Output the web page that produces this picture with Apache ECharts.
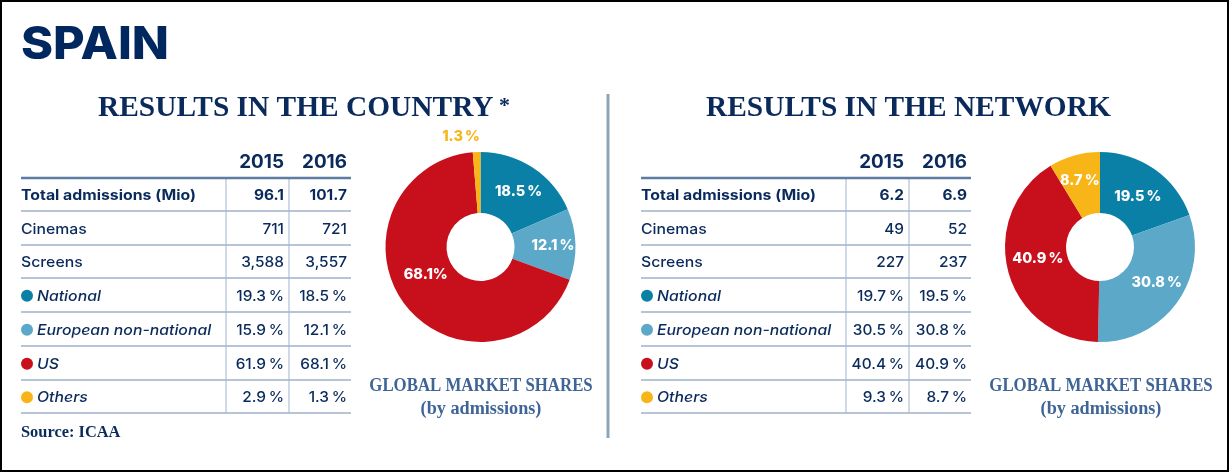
<!DOCTYPE html>
<html><head><meta charset="utf-8">
<style>html,body{margin:0;padding:0;background:#fff}#c{width:1229px;height:472px}</style>
<script src="https://cdn.jsdelivr.net/npm/echarts@6/dist/echarts.min.js"></script>
</head><body><div id="c"></div>
<script>
const pageTitle = 'SPAIN';
const years = ['2015', '2016'];
const segments = ['National', 'European non-national', 'US', 'Others'];
const rowLabels = ['Total admissions (Mio)', 'Cinemas', 'Screens', ...segments];
const countryTitle = 'RESULTS IN THE COUNTRY';
const networkTitle = 'RESULTS IN THE NETWORK';
const country2015 = ['96.1', '711', '3,588', '19.3\u2009%', '15.9\u2009%', '61.9\u2009%', '2.9\u2009%'];
const country2016 = ['101.7', '721', '3,557', '18.5\u2009%', '12.1\u2009%', '68.1\u2009%', '1.3\u2009%'];
const network2015 = ['6.2', '49', '227', '19.7\u2009%', '30.5\u2009%', '40.4\u2009%', '9.3\u2009%'];
const network2016 = ['6.9', '52', '237', '19.5\u2009%', '30.8\u2009%', '40.9\u2009%', '8.7\u2009%'];
const countryShares = [18.5, 12.1, 68.1, 1.3];
const networkShares = [19.5, 30.8, 40.9, 8.7];
const pieCaption = ['GLOBAL MARKET SHARES', '(by admissions)'];
const sourceNote = 'Source: ICAA';

const NAVY = '#0a2a5c', BLUE = '#3f6496', RULE = '#9fb0c8', VRULE = '#cfd9e8';
const COLORS = ['#0b80a6', '#5ba8c8', '#c8101c', '#f7b518'];
const SANS = 'Inter, "Noto Sans", sans-serif';
const SERIF = '"Liberation Serif", serif';
const rowY = [178, 211, 245, 278, 312, 346, 380, 413];

const g = [];
function text(x, y, s, o, sx) {
  g.push({ type: 'text', silent: true, z: 5, x, y, scaleX: sx || 1, style: Object.assign({
    text: s, fill: NAVY, verticalAlign: 'middle', font: '500 15px ' + SANS
  }, o) });
}
function line(x1, y1, x2, y2, stroke, w) {
  g.push({ type: 'line', silent: true, z: 3, shape: { x1, y1, x2, y2 }, style: { stroke, lineWidth: w } });
}
function table(dx, v15, v16) {
  text(dx + 284, 162.5, years[0], { align: 'right', font: '700 18.5px ' + SANS }, 1.02);
  text(dx + 347, 162.5, years[1], { align: 'right', font: '700 18.5px ' + SANS }, 1.02);
  line(dx + 226, 178, dx + 226, 413, VRULE, 2);
  line(dx + 289, 178, dx + 289, 413, VRULE, 2);
  rowY.forEach((y, i) => line(dx + 21, y, dx + 351, y, i === 0 ? '#5d7ba3' : RULE, i === 0 ? 2.5 : 1.6));
  rowLabels.forEach((lab, i) => {
    const cy = (rowY[i] + rowY[i + 1]) / 2 + 1.2;
    const bold = i === 0, seg = i >= 3;
    if (seg) {
      g.push({ type: 'circle', silent: true, z: 4, shape: { cx: dx + 27, cy: cy - 0.5, r: 6 }, style: { fill: COLORS[i - 3] } });
    }
    text(dx + (seg ? 37 : 21), cy, lab, { font: (seg ? 'italic 500 14.7px ' : bold ? '700 14.2px ' : '500 14.7px ') + SANS }, bold ? 1.115 : 1.075);
    const f = (bold ? '700 ' : '500 ') + '14.7px ' + SANS;
    text(dx + 284, cy, v15[i], { align: 'right', font: f }, 1.05);
    text(dx + 347, cy, v16[i], { align: 'right', font: f }, 1.05);
  });
}
function caption(cx) {
  text(cx, 386, pieCaption[0], { align: 'center', fill: BLUE, font: 'bold 18.2px ' + SERIF }, 0.925);
  text(cx, 409, pieCaption[1], { align: 'center', fill: BLUE, font: 'bold 18.2px ' + SERIF });
}
g.push({ type: 'rect', silent: true, z: 10, shape: { x: 1, y: 1, width: 1227, height: 470 }, style: { fill: 'none', stroke: '#000', lineWidth: 2 } });
text(21, 45, pageTitle, { font: '800 45px ' + SANS, fill: '#00285f' }, 1.08);
text(98, 108, countryTitle, { font: 'bold 29.4px ' + SERIF });
text(499, 106, '*', { font: 'bold 22px ' + SERIF });
text(706, 108, networkTitle, { font: 'bold 29.4px ' + SERIF });
line(608, 94, 608, 438, '#8ea5b8', 3);
table(0, country2015, country2016);
table(620, network2015, network2016);
caption(481); caption(1101);
text(21, 433, sourceNote, { font: 'bold 16.4px ' + SERIF });

const countryOffsets = [[1, 1], [5, 1], [-1, -13], [39, 0]];
const networkOffsets = [[-1, 5], [2, -4], [3, -6], [-2, -1]];
function pie(cx, values, offsets, outsideIdx) {
  return {
    type: 'pie', center: [cx, 247], radius: [34, 95], startAngle: 90, clockwise: true,
    silent: true, animation: false, avoidLabelOverlap: false, minShowLabelAngle: 0, labelLine: { show: false },
    data: values.map((v, i) => ({
      value: v, name: segments[i], itemStyle: { color: COLORS[i] },
      label: {
        show: true, position: i === outsideIdx ? 'outside' : 'inside', distance: 6,
        formatter: v.toFixed(1) + (v === 68.1 ? '%' : '\u2009%'), offset: offsets[i],
        color: i === outsideIdx ? COLORS[3] : '#fff',
        fontFamily: SANS, fontWeight: 800, fontSize: 14.5
      },
      labelLine: { show: false }
    }))
  };
}
const chart = echarts.init(document.getElementById('c'), null, { renderer: 'canvas' });
chart.setOption({
  animation: false, backgroundColor: '#fff',
  series: [pie(480.5, countryShares, countryOffsets, 3), pie(1100, networkShares, networkOffsets, -1)],
  graphic: { elements: g }
});
</script></body></html>
